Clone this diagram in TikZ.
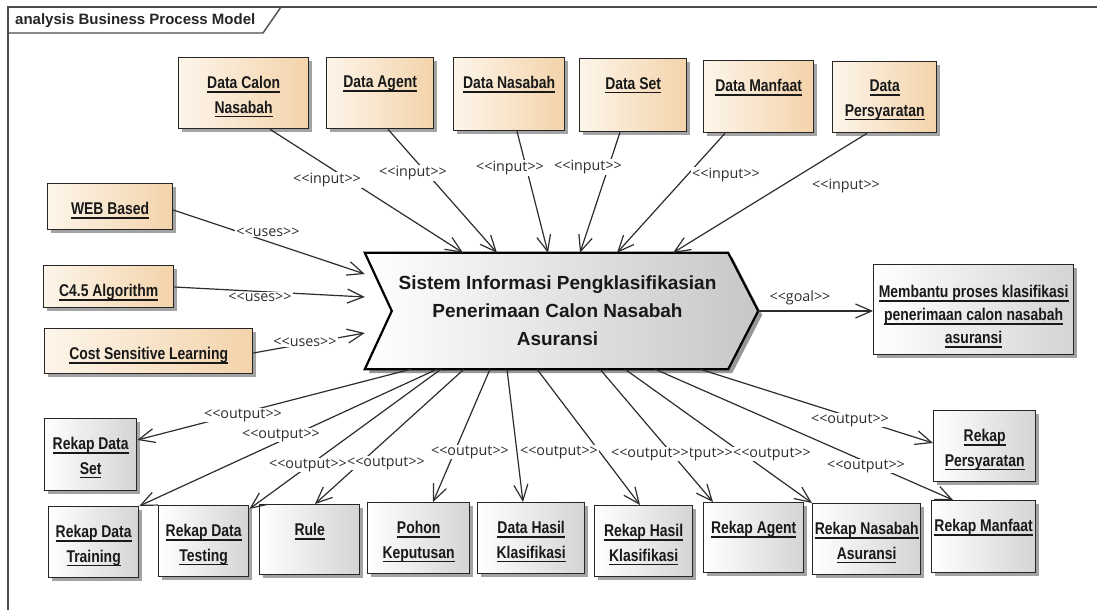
\documentclass[tikz,border=0pt]{standalone}
\usepackage{fontspec}
\setmainfont{Liberation Sans}
\newfontfamily\boxfont[FakeStretch=0.82]{Liberation Sans}
\newfontfamily\lblfont[Ligatures=TeXOff]{Open Sans}
\usetikzlibrary{arrows.meta,shadows,calc}
\definecolor{peachL}{RGB}{253,245,234}
\definecolor{peachR}{RGB}{243,211,170}
\definecolor{greyR}{RGB}{212,212,212}
\definecolor{ink}{RGB}{45,45,45}
\newcommand\ulx[1]{\setbox0\hbox{#1}\rlap{\rule[-4pt]{\wd0}{1.4pt}}\box0}
\newcommand\mkbox[7]{%
  \node[#1, minimum width={(#5-#3)*1pt}, minimum height={(#6-#4)*1pt}] (#2) at (#3,#4) {};
  \node[btext] (#2-t) at ([yshift=-19pt]#2.north) {#7};}
\tikzset{
  basebox/.style={draw=black!85, line width=1.3pt, inner sep=0pt, anchor=north west,
    drop shadow={shadow xshift=3pt, shadow yshift=-3pt, fill=black!40, opacity=0.9}},
  inbox/.style={basebox, left color=peachL, right color=peachR},
  outbox/.style={basebox, left color=white, right color=greyR},
  btext/.style={font=\boxfont\bfseries\fontsize{17}{24.5}\selectfont, align=center,
    anchor=north, inner sep=0pt, text=black!90},
  lbl/.style={font=\lblfont\fontsize{14.3}{15}\selectfont, fill=white, inner sep=1pt, text=ink},
  conn/.style={draw=ink, line width=1.2pt, -{Straight Barb[length=16pt,width=14pt,line width=1.2pt]}},
  frame/.style={draw=black!70, line width=1.4pt},
  chev/.style={draw=black, line width=2.2pt, left color=white, right color=black!22,
    drop shadow={shadow xshift=4pt, shadow yshift=-4pt, fill=black!45, opacity=0.9}}
}
\begin{document}
\begin{tikzpicture}[x=1pt,y=-1pt]
\useasboundingbox (0,0) rectangle (1097,610);
\fill[white] (0,0) rectangle (1097,610);
% frame
\draw[frame, fill=white] (8,7) -- (281,7) -- (263,33) -- (8,33);
\draw[frame] (8,610) -- (8,7) -- (1097,7);
\node[anchor=west, font=\bfseries\fontsize{15}{16}\selectfont, text=black!85, inner sep=0pt] (title) at (15,21) {analysis Business Process Model};

% input boxes
\mkbox{inbox}{dcn}{178}{57}{308}{128}{\ulx{Data Calon}\\\ulx{Nasabah}}
\mkbox{inbox}{dag}{326}{57}{433}{128}{\ulx{Data Agent}}
\mkbox{inbox}{dns}{453}{57}{564}{130}{\ulx{Data Nasabah}}
\mkbox{inbox}{dst}{579}{58}{686}{131}{\ulx{Data Set}}
\mkbox{inbox}{dmf}{703}{60}{813}{132}{\ulx{Data Manfaat}}
\mkbox{inbox}{dps}{832}{61}{936}{132}{\ulx{Data}\\\ulx{Persyaratan}}
% uses boxes
\mkbox{inbox}{web}{47}{183}{172}{229}{\ulx{WEB Based}}
\mkbox{inbox}{c45}{43}{265}{173}{307}{\ulx{C4.5 Algorithm}}
\mkbox{inbox}{csl}{44}{328}{252}{373}{\ulx{Cost Sensitive Learning}}

% goal box
\node[outbox, minimum width=200pt, minimum height=90pt] (goal) at (873,264) {};
\node[btext, font=\boxfont\bfseries\fontsize{17}{23}\selectfont] (goal-t) at ([yshift=-21pt]goal.north)
  {\ulx{Membantu proses klasifikasi}\\\ulx{penerimaan calon nasabah}\\\ulx{asuransi}};

% output boxes
\mkbox{outbox}{rds}{44}{418}{136}{490}{\ulx{Rekap Data}\\\ulx{Set}}
\mkbox{outbox}{rdt}{48}{506}{138}{577}{\ulx{Rekap Data}\\\ulx{Training}}
\mkbox{outbox}{rdte}{158}{505}{248}{576}{\ulx{Rekap Data}\\\ulx{Testing}}
\mkbox{outbox}{rule}{259}{504}{359}{574}{\ulx{Rule}}
\mkbox{outbox}{pk}{367}{502}{469}{573}{\ulx{Pohon}\\\ulx{Keputusan}}
\mkbox{outbox}{dhk}{477}{502}{584}{573}{\ulx{Data Hasil}\\\ulx{Klasifikasi}}
\mkbox{outbox}{rhk}{594}{505}{692}{576}{\ulx{Rekap Hasil}\\\ulx{Klasifikasi}}
\mkbox{outbox}{rag}{703}{502}{803}{572}{\ulx{Rekap Agent}}
\mkbox{outbox}{rna}{812}{503}{920}{574}{\ulx{Rekap Nasabah}\\\ulx{Asuransi}}
\mkbox{outbox}{rmf}{931}{500}{1035}{572}{\ulx{Rekap Manfaat}}
\mkbox{outbox}{rps}{933}{410}{1035}{481}{\ulx{Rekap}\\\ulx{Persyaratan}}

% central process
\node[minimum width=393pt, minimum height=116pt, inner sep=0pt] (sys) at (561.5,311) {};
\path[chev] (sys.north west) -- ([xshift=-30pt]sys.north east) -- (sys.east)
  -- ([xshift=-30pt]sys.south east) -- (sys.south west) -- ([xshift=27pt]sys.west) -- cycle;
\node[font=\bfseries\fontsize{19}{28}\selectfont, align=center, text=black!90] (sys-t) at ([xshift=-4pt]sys.center)
  {Sistem Informasi Pengklasifikasian\\Penerimaan Calon Nasabah\\Asuransi};

% inputs
\draw[conn] (270,0 |- dcn.south) -- (463,0 |- sys.north);
\draw[conn] (388,0 |- dag.south) -- (497,0 |- sys.north);
\draw[conn] (517,0 |- dns.south) -- (548,0 |- sys.north);
\draw[conn] (620,0 |- dst.south) -- (580,0 |- sys.north);
\draw[conn] (725,0 |- dmf.south) -- (617,0 |- sys.north);
\draw[conn] (867,0 |- dps.south) -- (673,0 |- sys.north);
% uses
\draw[conn] (web.east |- 0,210) -- (sys.west |- 0,274);
\draw[conn] (c45.east |- 0,287) -- (sys.west |- 0,297);
\draw[conn] (csl.east |- 0,353) -- (sys.west |- 0,333);
% goal
\draw[conn] (sys.east) -- (goal.west |- sys.east);
% outputs
\draw[conn] (411,0 |- sys.south) -- (rds.east |- 0,440);
\draw[conn] (437,0 |- sys.south) -- (rdt.north east);
\draw[conn] (441,0 |- sys.south) -- ([yshift=-4pt]rdte.north east);
\draw[conn] (464,0 |- sys.south) -- (315,0 |- rule.north);
\draw[conn] (490,0 |- sys.south) -- (433,0 |- pk.north);
\draw[conn] (507,0 |- sys.south) -- (523,0 |- dhk.north);
\draw[conn] (537,0 |- sys.south) -- (640,0 |- rhk.north);
\draw[conn] (600,0 |- sys.south) -- (713,0 |- rag.north);
\draw[conn] (625,0 |- sys.south) -- (rna.north west);
\draw[conn] (655,0 |- sys.south) -- (953,0 |- rmf.north);
\draw[conn] (700,0 |- sys.south) -- (rps.west |- 0,443);

% labels
\node[lbl] (li1) at (327,180) {<<input>>};
\node[lbl] (li2) at (413,173) {<<input>>};
\node[lbl] (li3) at (510,168) {<<input>>};
\node[lbl] (li4) at (588,167) {<<input>>};
\node[lbl] (li5) at (726,175) {<<input>>};
\node[lbl] (li6) at (846,186) {<<input>>};
\node[lbl] (lu1) at (268,232) {<<uses>>};
\node[lbl] (lu2) at (260,297) {<<uses>>};
\node[lbl] (lu3) at (305,342) {<<uses>>};
\node[lbl] (lg) at (800,298) {<<goal>>};
\node[lbl] (lo1) at (243,415) {<<output>>};
\node[lbl] (lo2) at (281,435) {<<output>>};
\node[lbl] (lo3) at (308,465) {<<output>>};
\node[lbl] (lo4) at (386,463) {<<output>>};
\node[lbl] (lo5) at (470,452) {<<output>>};
\node[lbl] (lo6) at (559,452) {<<output>>};
\node[lbl] (lo8) at (694,454) {<<output>>};
\node[lbl] (lo7) at (650,454) {<<output>>};
\node[lbl] (lo9) at (772,454) {<<output>>};
\node[lbl] (lo10) at (850,420) {<<output>>};
\node[lbl] (lo11) at (866,466) {<<output>>};
\end{tikzpicture}
\end{document}
